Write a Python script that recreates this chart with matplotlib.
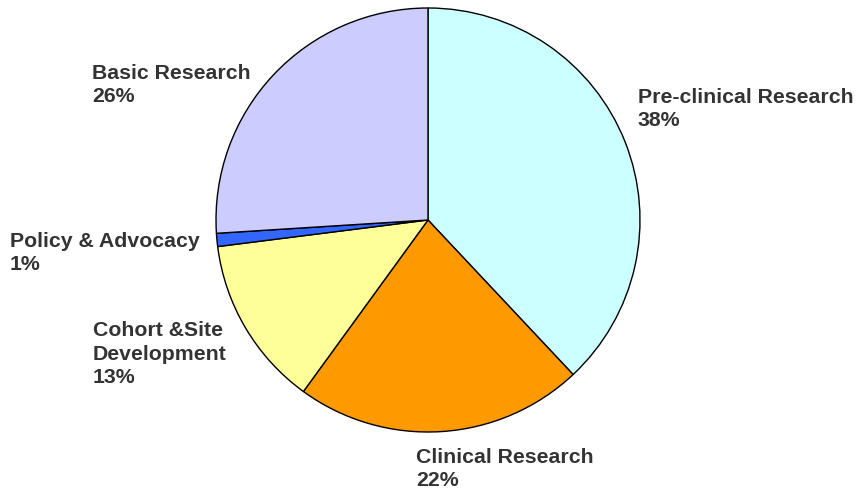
import matplotlib.pyplot as plt

# slices, clockwise from 12 o'clock
labels = ['Pre-clinical Research', 'Clinical Research', 'Cohort &Site\nDevelopment',
          'Policy & Advocacy', 'Basic Research']
shares = [38, 22, 13, 1, 26]
colors = ['#CCFFFF', '#FF9900', '#FFFF99', '#3366FF', '#CCCCFF']

W, H = 858, 495
label_pos = [(638, 109), (416, 469), (93, 354), (10, 253), (92, 85)]

fig = plt.figure(figsize=(W / 100, H / 100), dpi=100)
ax = fig.add_axes([0, 0, 1, 1])

ax.pie(shares, colors=colors, startangle=90, counterclock=False,
       center=(428, H - 220), radius=212, frame=True,
       wedgeprops=dict(edgecolor='black', linewidth=1.0))
ax.set_xlim(0, W)
ax.set_ylim(0, H)
ax.set_aspect('equal')
ax.axis('off')

for lab, val, (x, y) in zip(labels, shares, label_pos):
    ax.text(x, H - y, f'{lab}\n{val}%', ha='left', va='center',
            fontsize=15.3, fontweight='bold', color='#333333',
            family='Liberation Sans', linespacing=1.27)

fig.savefig('out.png', dpi=100)
